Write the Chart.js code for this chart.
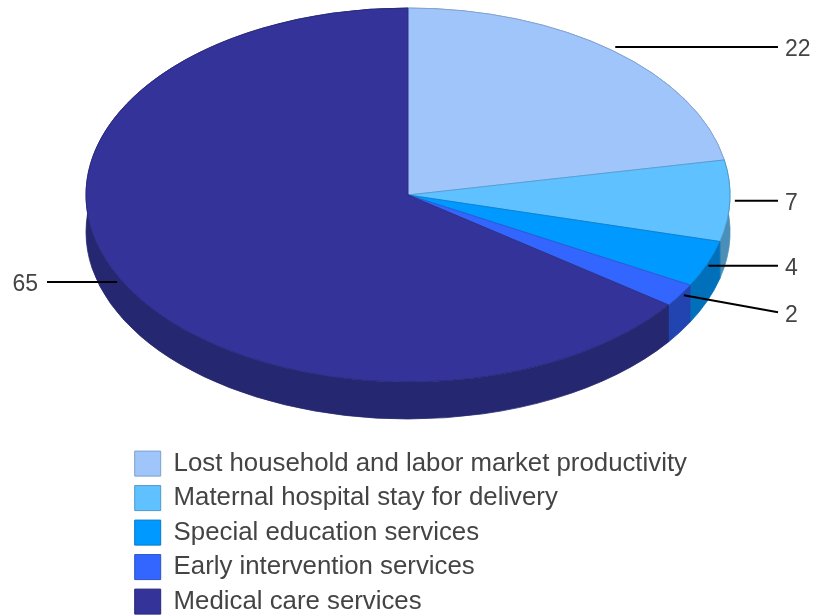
<!DOCTYPE html>
<html>
<head>
<meta charset="utf-8">
<title>Cost breakdown</title>
<script src="https://cdn.jsdelivr.net/npm/chart.js@4"></script>
<style>
  html, body { margin: 0; padding: 0; background: #fff; }
  canvas { display: block; }
</style>
</head>
<body>
<canvas id="costChart" width="814" height="615"></canvas>
<script>
const categories = [
    'Lost household and labor market productivity',
    'Maternal hospital stay for delivery',
    'Special education services',
    'Early intervention services',
    'Medical care services'
];
const shareValues = [22, 7, 4, 2, 65];
const sliceColors = ['#9fc5fb', '#5fc1ff', '#0099ff', '#3366ff', '#333399'];
const edgeColors = ['#7f9fcc', '#4c9acc', '#007acc', '#2952cc', '#29297a'];
const wallColors = ['#7795c0', '#4a8fb8', '#0070bb', '#2244b0', '#252770'];

// Pie is squashed into an ellipse and given a wall, Chart.js only knows flat circles
const PIE_CENTER = { x: 408, y: 195 };
const PIE_RADIUS = 322;
const SQUASH = 187 / 322;
const WALL_DEPTH = 37;

// Where each leader line ends and its number sits
const LABEL_RIGHT_X = 778;
const LABEL_LEFT_X = 47;
const LABEL_FONT = '23px "Liberation Sans", Arial, sans-serif';
const LABEL_COLOR = '#444444';
const LEADER_DROP = [-4, 0, 2, 17, 2];
const LEADER_NUDGE = [2, 5, 1, 4, -4];

const pie3dPlugin = {
    id: 'pie3d',
    afterUpdate(chart) {
        // Legend goes under the pie, starting at the left edge of the boxes
        const legend = chart.legend;
        const w = legend.right - legend.left;
        legend.left = 126;
        legend.right = 126 + w;
        legend.top = 442;
        legend.bottom = 615;
    },
    beforeDatasetsDraw(chart) {
        const ctx = chart.ctx;
        const arcs = chart.getDatasetMeta(0).data;
        ctx.save();
        ctx.translate(PIE_CENTER.x, PIE_CENTER.y);
        ctx.scale(1, SQUASH);
        ctx.translate(-arcs[0].x, -arcs[0].y);
        // wall: band between each slice's rim and the same rim moved down
        const drop = WALL_DEPTH / SQUASH;
        arcs.forEach((arc, i) => {
            ctx.fillStyle = wallColors[i];
            ctx.strokeStyle = wallColors[i];
            ctx.lineWidth = 1;
            ctx.beginPath();
            ctx.arc(arc.x, arc.y, arc.outerRadius, arc.startAngle, arc.endAngle);
            ctx.arc(arc.x, arc.y + drop, arc.outerRadius, arc.endAngle, arc.startAngle, true);
            ctx.closePath();
            ctx.fill();
            ctx.stroke(); // hides the hairline seam between neighbouring walls
        });
    },
    afterDatasetsDraw(chart) {
        const ctx = chart.ctx;
        ctx.restore();
        const arcs = chart.getDatasetMeta(0).data;
        ctx.save();
        ctx.font = LABEL_FONT;
        ctx.textBaseline = 'middle';
        arcs.forEach((arc, i) => {
            const mid = (arc.startAngle + arc.endAngle) / 2;
            const startX = PIE_CENTER.x + Math.cos(mid) * arc.outerRadius + LEADER_NUDGE[i];
            const startY = PIE_CENTER.y + Math.sin(mid) * arc.outerRadius * SQUASH;
            const onRight = startX > PIE_CENTER.x;
            const endX = onRight ? LABEL_RIGHT_X : LABEL_LEFT_X;
            const endY = startY + LEADER_DROP[i];
            ctx.strokeStyle = '#000000';
            ctx.lineWidth = 2;
            ctx.beginPath();
            // all lines run flat except the small slice, which slopes down to its number
            ctx.moveTo(startX, i === 3 ? startY : endY);
            ctx.lineTo(endX, endY);
            ctx.stroke();
            ctx.fillStyle = LABEL_COLOR;
            ctx.textAlign = onRight ? 'left' : 'right';
            ctx.fillText(String(shareValues[i]), onRight ? endX + 7 : endX - 9, endY + 3);
        });
        ctx.restore();
    }
};

const chart = new Chart(document.getElementById('costChart').getContext('2d'), {
    type: 'pie',
    data: {
        labels: categories,
        datasets: [{
            data: shareValues,
            backgroundColor: sliceColors,
            borderColor: edgeColors,
            borderWidth: 1,
            clip: false
        }]
    },
    options: {
        responsive: false,
        animation: false,
        radius: PIE_RADIUS,
        // side padding only narrows the legend so each entry wraps onto its own row
        layout: { padding: { left: 90, right: 90 } },
        plugins: {
            tooltip: { enabled: false },
            legend: {
                position: 'bottom',
                align: 'start',
                labels: {
                    boxWidth: 26,
                    boxHeight: 25,
                    padding: 8.7,
                    color: LABEL_COLOR,
                    font: { family: '"Liberation Sans", Arial, sans-serif', size: 25.8 }
                }
            }
        }
    },
    plugins: [pie3dPlugin]
});
</script>
</body>
</html>
